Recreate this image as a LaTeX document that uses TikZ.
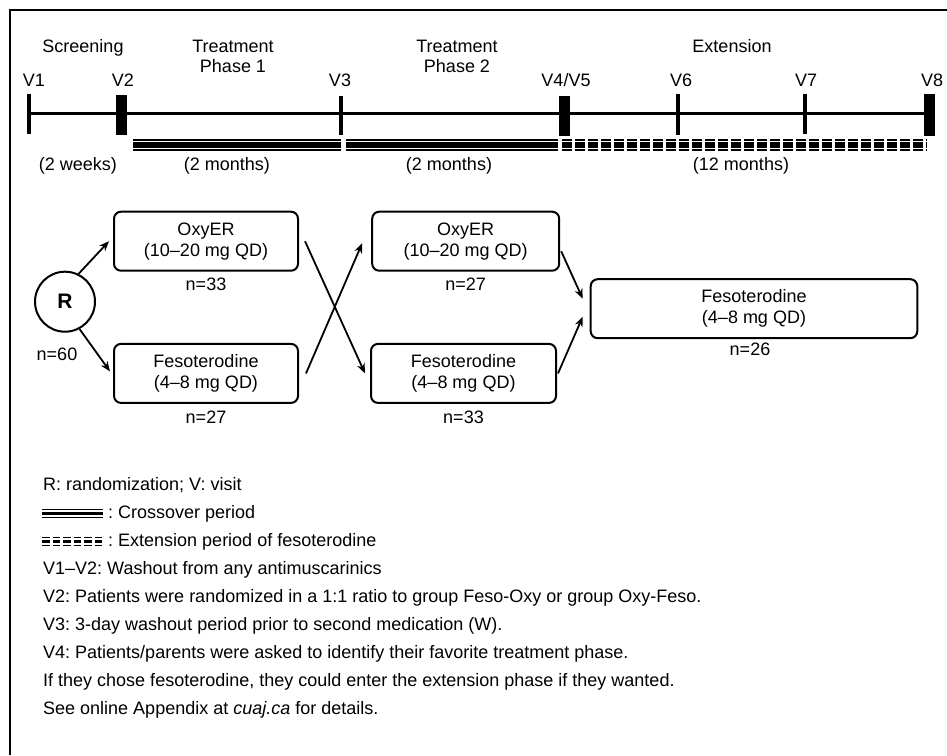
\documentclass[tikz,border=0pt]{standalone}
\usepackage{fontspec}
\setmainfont{Liberation Sans}
\usetikzlibrary{arrows.meta,calc}
\frenchspacing
\begin{document}
\begin{tikzpicture}[x=1pt,y=-1pt,
  every node/.style={font=\fontsize{18}{21}\selectfont, inner sep=0pt},
  lbl/.style={anchor=base},
  lleft/.style={anchor=base west},
  box/.style={draw, line width=2pt, rounded corners=7pt, align=center, minimum height=59pt},
  arr/.style={line width=1.8pt, -{Stealth[length=10pt,width=8pt]}},
  vtick/.style={line width=4pt},
  vblock/.style={fill=black},
  thinl/.style={line width=1.7pt},
  thickl/.style={line width=5.3pt},
  dsh/.style={dash pattern=on 9.5pt off 3.5pt},
  ldsh/.style={dash pattern=on 7.5pt off 3pt},
]
\useasboundingbox (0,0) rectangle (947,755);
% frame (left and top)
\draw[line width=1.5pt] (10,755) -- (10,10) -- (947,10);

% timeline
\draw[line width=3pt] (29,113) -- (935,113);
\draw[vtick] (29,94) -- (29,134);
\draw[vtick] (341,96) -- (341,135);
\draw[vtick] (678,94) -- (678,135);
\draw[vtick] (805,94) -- (805,134);
\fill[vblock] (115.5,95) rectangle (126.5,135);
\fill[vblock] (558.5,96) rectangle (569.5,136);
\fill[vblock] (924,94) rectangle (935,136);

% visit labels
\node[lbl] (v1) at (34,86) {V1};
\node[lbl] (v2) at (123,86) {V2};
\node[lbl] (v3) at (340,86) {V3};
\node[lbl] (v4) at (566,86) {V4/V5};
\node[lbl] (v6) at (681,86) {V6};
\node[lbl] (v7) at (806,86) {V7};
\node[lbl] (v8) at (932,86) {V8};

% phase labels
\node[lbl] (scr) at (83,52) {Screening};
\node[lbl] (tp1a) at (233,52) {Treatment};
\node[lbl] (tp1b) at (233,72) {Phase 1};
\node[lbl] (tp2a) at (457,52) {Treatment};
\node[lbl] (tp2b) at (457,72) {Phase 2};
\node[lbl] (ext) at (732,52) {Extension};

% period bars
\foreach \a/\b in {133.3/340.7, 346/558} {
  \draw[thinl] (\a,140) -- (\b,140);
  \draw[thickl] (\a,145) -- (\b,145);
  \draw[thinl] (\a,150.3) -- (\b,150.3);
}
\draw[thinl,dsh] (562,140) -- (927,140);
\draw[thickl,dsh] (562,145) -- (927,145);
\draw[thinl,dsh] (562,150.3) -- (927,150.3);

% period labels
\node[lbl] (p1) at (78,170) {(2 weeks)};
\node[lbl] (p2) at (227,170) {(2 months)};
\node[lbl] (p3) at (449,170) {(2 months)};
\node[lbl] (p4) at (741,170) {(12 months)};

% flow
\node[draw, circle, line width=2pt, minimum size=60pt, font=\fontsize{21}{21}\selectfont\bfseries] (R) at (65,301.7) {R};
\node[lbl] (n60) at (57,360.7) {n=60};

\node[box, minimum width=184pt] (A) at (206,241.2) {OxyER\\(10–20 mg QD)};
\node[box, minimum width=184pt] (B) at (206,373.4) {Fesoterodine\\(4–8 mg QD)};
\node[box, minimum width=187pt] (C) at (465.7,241.2) {OxyER\\(10–20 mg QD)};
\node[box, minimum width=185pt] (D) at (463.5,373.4) {Fesoterodine\\(4–8 mg QD)};
\node[box, minimum width=326.6pt] (E) at (754,308.7) {Fesoterodine\\(4–8 mg QD)};

\node[lbl] (nA) at (206,290) {n=33};
\node[lbl] (nB) at (206,423) {n=27};
\node[lbl] (nC) at (465.7,290) {n=27};
\node[lbl] (nD) at (463.5,423) {n=33};
\node[lbl] (nE) at (750,355.7) {n=26};

\draw[arr] (R.64) -- ($(A.west)+(-4,0)$);
\draw[arr] (R.-62) -- ($(B.west)+(-3,-2)$);
\draw[arr] ($(A.east)+(6,0)$) -- ($(D.west)+(-5,0)$);
\draw[arr] ($(B.east)+(7,0)$) -- ($(C.west)+(-9,2)$);
\draw[arr] ($(C.east)+(1,10)$) -- ($(E.west)+(-7,-10)$);
\draw[arr] ($(D.east)+(1,0)$) -- ($(E.west)+(-7,8)$);

% legend
\node[lleft] (l1) at (43,490) {R: randomization; V: visit};
\draw[line width=1.3pt] (42,509.5) -- (103,509.5);
\draw[line width=3.5pt] (42,513.3) -- (103,513.3);
\draw[line width=1.3pt] (42,517.3) -- (103,517.3);
\node[lleft] (l2) at (108,518) {: Crossover period};
\draw[line width=1.3pt,ldsh] (42,537.5) -- (103,537.5);
\draw[line width=3.5pt,ldsh] (42,541.3) -- (103,541.3);
\draw[line width=1.3pt,ldsh] (42,545.3) -- (103,545.3);
\node[lleft] (l3) at (108,546) {: Extension period of fesoterodine};
\node[lleft] (l4) at (43,574) {V1–V2: Washout from any antimuscarinics};
\node[lleft] (l5) at (43,602) {V2: Patients were randomized in a 1:1 ratio to group Feso-Oxy or group Oxy-Feso.};
\node[lleft] (l6) at (43,630) {V3: 3-day washout period prior to second medication (W).};
\node[lleft] (l7) at (43,658) {V4: Patients/parents were asked to identify their favorite treatment phase.};
\node[lleft] (l8) at (43,686) {If they chose fesoterodine, they could enter the extension phase if they wanted.};
\node[lleft] (l9) at (43,714) {See online Appendix at \textit{cuaj.ca} for details.};
\end{tikzpicture}
\end{document}
